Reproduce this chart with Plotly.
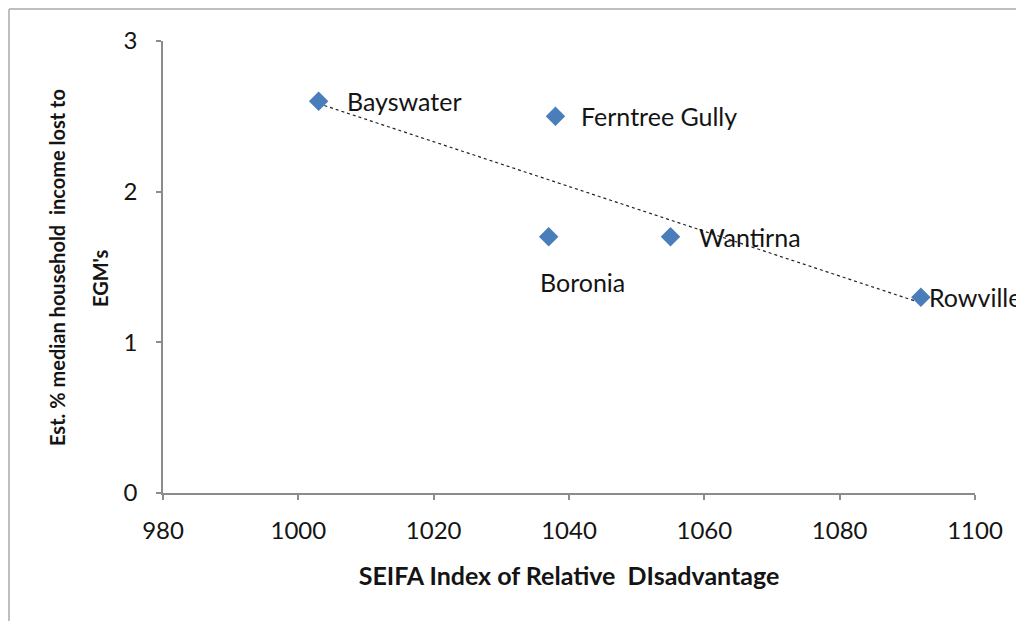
import numpy as np
import plotly.graph_objects as go

suburbs = ["Bayswater", "Ferntree Gully", "Boronia", "Wantirna", "Rowville"]
seifa = [1003, 1038, 1037, 1055, 1092]
pct_lost = [2.6, 2.5, 1.7, 1.7, 1.3]
x_ticks = [980, 1000, 1020, 1040, 1060, 1080, 1100]
y_ticks = [0, 1, 2, 3]
y_title_lines = ["Est. % median household  income lost to", "EGM's"]
x_title = "SEIFA Index of Relative  DIsadvantage"

# linear trendline fitted to the data
slope, intercept = np.polyfit(seifa, pct_lost, 1)
tx = [min(seifa), max(seifa)]
ty = [slope * v + intercept for v in tx]

FONT = "Lato"
TXT = "#141414"
# plot area in page pixels: x 163..975, y 41..493 (page has 8px body margin)
PL, PR, PT, PB = 163, 975, 41, 493
W, H = PR - PL, PB - PT


def px(xp):
    return (xp - PL) / W


def py(yp):
    return (PB - yp) / H


fig = go.Figure()
fig.add_trace(go.Scatter(x=tx, y=ty, mode="lines",
                         line=dict(color="#222222", width=1.2, dash="dot"),
                         hoverinfo="skip", showlegend=False))
fig.add_trace(go.Scatter(x=seifa, y=pct_lost, mode="markers",
                         marker=dict(symbol="diamond", size=15, color="#4A7EBB"),
                         showlegend=False))

# label placement (xshift, yshift)
label_pos = {
    "Bayswater": (26, 0),
    "Ferntree Gully": (24, 0),
    "Boronia": (-11, -45),
    "Wantirna": (26, 0),
    "Rowville": (6, 0),
}
for name, xv, yv in zip(suburbs, seifa, pct_lost):
    xs, ys = label_pos[name]
    fig.add_annotation(x=xv, y=yv, text=name, showarrow=False,
                       xanchor="left", yanchor="middle", xshift=xs, yshift=ys,
                       font=dict(family=FONT, size=25, color=TXT))

# y-axis title in two lines, spaced like the original
for text, xc, yc in zip(y_title_lines, [57, 100], [268, 278]):
    fig.add_annotation(xref="paper", yref="paper", x=px(xc), y=py(yc),
                       text=f"<b>{text}</b>", textangle=-90, showarrow=False,
                       xanchor="center", yanchor="middle",
                       font=dict(family=FONT, size=20, color=TXT))

# outer chart frame (left and top edges visible)
fig.add_shape(type="line", xref="paper", yref="paper",
              x0=px(9), x1=px(9), y0=py(9), y1=py(640),
              line=dict(color="#BFBFBF", width=2))
fig.add_shape(type="line", xref="paper", yref="paper",
              x0=px(9), x1=px(1100), y0=py(9), y1=py(9),
              line=dict(color="#BFBFBF", width=2))

fig.update_layout(
    width=1016, height=613,
    margin=dict(l=PL - 8, r=1016 + 8 - PR, t=PT - 8, b=613 + 8 - PB),
    paper_bgcolor="white", plot_bgcolor="white",
    font=dict(family=FONT, color=TXT),
    xaxis=dict(range=[980, 1100], tickvals=x_ticks, showgrid=False, zeroline=False,
               showline=True, linecolor="#8C8C8C", linewidth=1.5,
               ticks="outside", ticklen=5, tickcolor="#8C8C8C", tickwidth=1.5,
               ticklabelstandoff=10,
               tickfont=dict(family=FONT, size=24, color=TXT),
               title=dict(text=f"<b>{x_title}</b>",
                          font=dict(family=FONT, size=25, color=TXT), standoff=25)),
    yaxis=dict(range=[0, 3], tickvals=y_ticks, showgrid=False, zeroline=False,
               showline=True, linecolor="#8C8C8C", linewidth=1.5,
               ticks="outside", ticklen=5, tickcolor="#8C8C8C", tickwidth=1.5,
               ticklabelstandoff=14,
               tickfont=dict(family=FONT, size=24, color=TXT)),
)
fig.write_html("out.html")
